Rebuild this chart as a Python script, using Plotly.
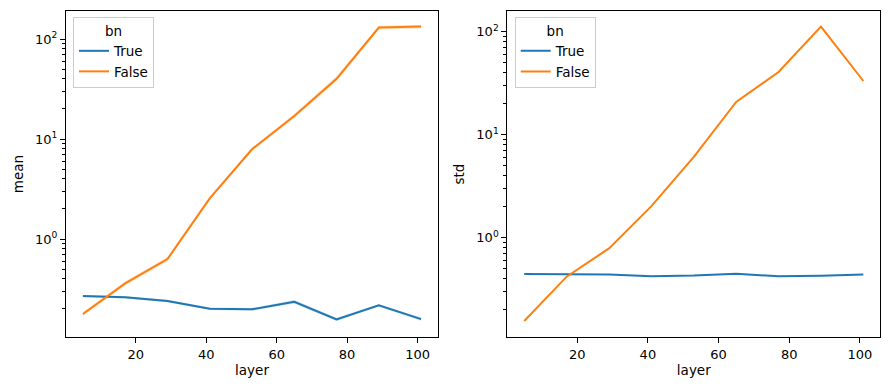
import plotly.graph_objects as go

layers = [5, 17, 29, 41, 53, 65, 77, 89, 101]

mean_true = [0.269, 0.261, 0.240, 0.201, 0.198, 0.236, 0.157, 0.217, 0.158]
mean_true_lo = [0.262, 0.254, 0.233, 0.195, 0.192, 0.226, 0.151, 0.211, 0.152]
mean_true_hi = [0.276, 0.268, 0.247, 0.207, 0.204, 0.246, 0.163, 0.223, 0.164]

mean_false = [0.178, 0.36, 0.63, 2.55, 7.9, 17.0, 40.0, 130.0, 133.0]
mean_false_lo = [0.170, 0.345, 0.60, 2.45, 7.6, 16.2, 37.5, 124.0, 128.0]
mean_false_hi = [0.186, 0.375, 0.66, 2.65, 8.2, 17.8, 42.5, 136.0, 138.0]

std_true = [0.445, 0.440, 0.440, 0.423, 0.430, 0.448, 0.423, 0.428, 0.440]
std_false = [0.156, 0.42, 0.79, 2.03, 6.1, 20.8, 40.6, 112.0, 33.2]

hue_labels = ["True", "False"]
BLUE = "#1f77b4"
ORANGE = "#ff7f0e"
BLUE_BAND = "rgba(31,119,180,0.22)"
ORANGE_BAND = "rgba(255,127,14,0.22)"

# page body has an 8px margin; figure is sized to fit the window
OFF = 8
W, H = 889 - OFF, 390 - OFF

def px_x(p):
    return (p - OFF) / W

def px_y(p):
    return 1 - (p - OFF) / H

fig = go.Figure()

def band(x, lo, hi, color, xa, ya):
    fig.add_trace(go.Scatter(x=x, y=hi, mode="lines", line=dict(width=0),
                             showlegend=False, hoverinfo="skip", xaxis=xa, yaxis=ya))
    fig.add_trace(go.Scatter(x=x, y=lo, mode="lines", line=dict(width=0),
                             fill="tonexty", fillcolor=color,
                             showlegend=False, hoverinfo="skip", xaxis=xa, yaxis=ya))

band(layers, mean_true_lo, mean_true_hi, BLUE_BAND, "x", "y")
band(layers, mean_false_lo, mean_false_hi, ORANGE_BAND, "x", "y")

fig.add_trace(go.Scatter(x=layers, y=mean_true, mode="lines", name=hue_labels[0],
                         line=dict(color=BLUE, width=2), xaxis="x", yaxis="y", legend="legend"))
fig.add_trace(go.Scatter(x=layers, y=mean_false, mode="lines", name=hue_labels[1],
                         line=dict(color=ORANGE, width=2), xaxis="x", yaxis="y", legend="legend"))
fig.add_trace(go.Scatter(x=layers, y=std_true, mode="lines", name=hue_labels[0],
                         line=dict(color=BLUE, width=2), xaxis="x2", yaxis="y2", legend="legend2"))
fig.add_trace(go.Scatter(x=layers, y=std_false, mode="lines", name=hue_labels[1],
                         line=dict(color=ORANGE, width=2), xaxis="x2", yaxis="y2", legend="legend2"))

FONT = dict(family="DejaVu Sans", size=13, color="black")
LFONT = dict(family="DejaVu Sans", size=13.5, color="black")

axis_common = dict(showline=True, linecolor="black", linewidth=1, mirror=True,
                   ticks="outside", ticklen=5, tickwidth=1, tickcolor="black",
                   showgrid=False, zeroline=False, tickfont=FONT, automargin=False)

xticks = [20, 40, 60, 80, 100]
yticks = [1, 10, 100]
yticktext = ["10<sup>0</sup>", "10<sup>1</sup>", "10<sup>2</sup>"]

minor = dict(ticks="outside", ticklen=3, tickcolor="black", tickwidth=1, dtick="D1", showgrid=False)

legend_common = dict(xanchor="left", yanchor="top", traceorder="normal",
                     bgcolor="rgba(255,255,255,0.8)", bordercolor="#cccccc", borderwidth=1,
                     title=dict(text="bn", side="top center", font=LFONT), font=LFONT,
                     tracegroupgap=0, itemwidth=30)

ydom = [px_y(337), px_y(11)]

fig.update_layout(
    width=W, height=H,
    margin=dict(l=0, r=0, t=0, b=0),
    paper_bgcolor="white", plot_bgcolor="white",
    font=FONT,
    xaxis=dict(domain=[px_x(66), px_x(438)], range=[0.2, 105.8], tickvals=xticks,
               title=dict(text="layer", font=LFONT, standoff=4), anchor="y", **axis_common),
    yaxis=dict(domain=ydom, type="log", range=[-0.98, 2.28],
               tickvals=yticks, ticktext=yticktext, minor=minor,
               title=dict(text="mean", font=LFONT, standoff=8), anchor="x", **axis_common),
    xaxis2=dict(domain=[px_x(507.3), px_x(880.3)], range=[0.2, 105.8], tickvals=xticks,
                title=dict(text="layer", font=LFONT, standoff=4), anchor="y2", **axis_common),
    yaxis2=dict(domain=ydom, type="log", range=[-0.962, 2.2],
                tickvals=yticks, ticktext=yticktext, minor=minor,
                title=dict(text="std", font=LFONT, standoff=8), anchor="x2", **axis_common),
    legend=dict(x=px_x(73), y=px_y(17), **legend_common),
    legend2=dict(x=px_x(514.7), y=px_y(17), **legend_common),
)

fig.write_html("out.html")
